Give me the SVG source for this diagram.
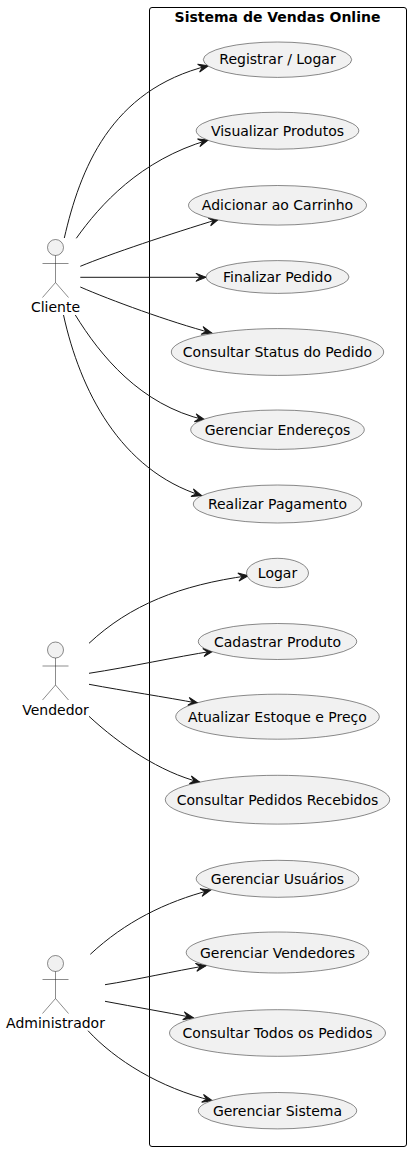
<svg xmlns="http://www.w3.org/2000/svg" width="411" height="1151" viewBox="0 0 411 1151">
<style>
text{font-family:"DejaVu Sans",sans-serif;font-size:14px;fill:#000;text-anchor:middle}
.title{font-weight:bold}
.uc ellipse{fill:#F1F1F1;stroke:#181818;stroke-width:.5}
.actor circle{fill:#F1F1F1;stroke:#181818;stroke-width:.5}
.actor path{fill:none;stroke:#181818;stroke-width:.5}
#connectors path{fill:none;stroke:#181818;stroke-width:1;marker-end:url(#arrow)}
</style>
<defs>
<marker id="arrow" markerUnits="userSpaceOnUse" markerWidth="12" markerHeight="12" viewBox="0 0 12 12" refX="11" refY="6" orient="auto">
<path d="M11,6 L1,2 L5,6 L1,10 Z" fill="#181818" stroke="#181818" stroke-width="1"/>
</marker>
</defs>
<rect id="boundary" x="149.5" y="7.5" width="257" height="1139" rx="2.5" ry="2.5" fill="none" stroke="#000" stroke-width="1"/>
<text class="title" x="277.5" y="22">Sistema de Vendas Online</text>
<g id="connectors">
<path d="M64.3,238 C80,170 110,90 208.3,65.7"/>
<path d="M76.3,238.3 C100,205 140,160 208.3,140"/>
<path d="M80.3,266.3 C110,254 170,234 219,219"/>
<path d="M80.3,277.3 L206,277.3"/>
<path d="M80.3,287 C110,300 170,322 211.7,333"/>
<path d="M75.3,315 C100,355 140,405 205,420"/>
<path d="M63.5,315 C80,390 120,470 201.7,495.7"/>
<path d="M89,643.3 C130,605 180,585 248.3,575.7"/>
<path d="M89,673.3 C130,667 175,657 213.3,651"/>
<path d="M89,684.3 C125,691 165,697 198.3,703.3"/>
<path d="M89,716.3 C120,745 160,772 200,782.3"/>
<path d="M90.3,954.3 C125,922 165,902 210.7,890"/>
<path d="M105,984.7 C135,980 175,971 206,965.7"/>
<path d="M105,1001.3 C135,1007 165,1012 193.3,1017.7"/>
<path d="M88,1030.7 C115,1060 160,1088 212.3,1100.7"/>
</g>
<g id="cliente" class="actor"><circle cx="55.5" cy="247.5" r="8"/><path d="M55.5,255.5 V282.5 M42.5,263.5 H68.5 M55.5,282.5 L42.5,297.5 M55.5,282.5 L68.5,297.5"/><text x="55.5" y="312">Cliente</text></g>
<g id="vendedor" class="actor"><circle cx="55.5" cy="650" r="8"/><path d="M55.5,658 V685 M42.5,666 H68.5 M55.5,685 L42.5,700 M55.5,685 L68.5,700"/><text x="55.5" y="714.5">Vendedor</text></g>
<g id="administrador" class="actor"><circle cx="55.5" cy="963.5" r="8"/><path d="M55.5,971.5 V998.5 M42.5,979.5 H68.5 M55.5,998.5 L42.5,1013.5 M55.5,998.5 L68.5,1013.5"/><text x="55.5" y="1028">Administrador</text></g>
<g id="uc1" class="uc"><ellipse cx="277.5" cy="59.7" rx="74.2" ry="17.7"/><text x="277.5" y="64">Registrar / Logar</text></g>
<g id="uc2" class="uc"><ellipse cx="277.5" cy="130.7" rx="81.3" ry="18.5"/><text x="277.5" y="136">Visualizar Produtos</text></g>
<g id="uc3" class="uc"><ellipse cx="277.5" cy="205.3" rx="89" ry="19.8"/><text x="277.5" y="210">Adicionar ao Carrinho</text></g>
<g id="uc4" class="uc"><ellipse cx="277.5" cy="277" rx="71.5" ry="16.4"/><text x="277.5" y="282">Finalizar Pedido</text></g>
<g id="uc5" class="uc"><ellipse cx="277.5" cy="352" rx="106.2" ry="23.4"/><text x="277.5" y="357">Consultar Status do Pedido</text></g>
<g id="uc6" class="uc"><ellipse cx="277.5" cy="429.7" rx="86.8" ry="19.7"/><text x="277.5" y="435">Gerenciar Endereços</text></g>
<g id="uc7" class="uc"><ellipse cx="277.5" cy="504" rx="84.2" ry="19"/><text x="277.5" y="509">Realizar Pagamento</text></g>
<g id="uc8" class="uc"><ellipse cx="277.5" cy="573" rx="31" ry="14.7"/><text x="277.5" y="578">Logar</text></g>
<g id="uc9" class="uc"><ellipse cx="277.5" cy="641.5" rx="79.2" ry="18"/><text x="277.5" y="646.5">Cadastrar Produto</text></g>
<g id="uc10" class="uc"><ellipse cx="277.5" cy="716.7" rx="101.8" ry="22.5"/><text x="277.5" y="722">Atualizar Estoque e Preço</text></g>
<g id="uc11" class="uc"><ellipse cx="277.5" cy="799.7" rx="112.2" ry="24.4"/><text x="277.5" y="804.5">Consultar Pedidos Recebidos</text></g>
<g id="uc12" class="uc"><ellipse cx="277.5" cy="878.8" rx="81.3" ry="18.5"/><text x="277.5" y="884">Gerenciar Usuários</text></g>
<g id="uc13" class="uc"><ellipse cx="277.5" cy="952.5" rx="91.3" ry="20.5"/><text x="277.5" y="958">Gerenciar Vendedores</text></g>
<g id="uc14" class="uc"><ellipse cx="277.5" cy="1033" rx="108" ry="23.3"/><text x="277.5" y="1038">Consultar Todos os Pedidos</text></g>
<g id="uc15" class="uc"><ellipse cx="277.5" cy="1110.7" rx="79.2" ry="18.2"/><text x="277.5" y="1115.5">Gerenciar Sistema</text></g>
</svg>
